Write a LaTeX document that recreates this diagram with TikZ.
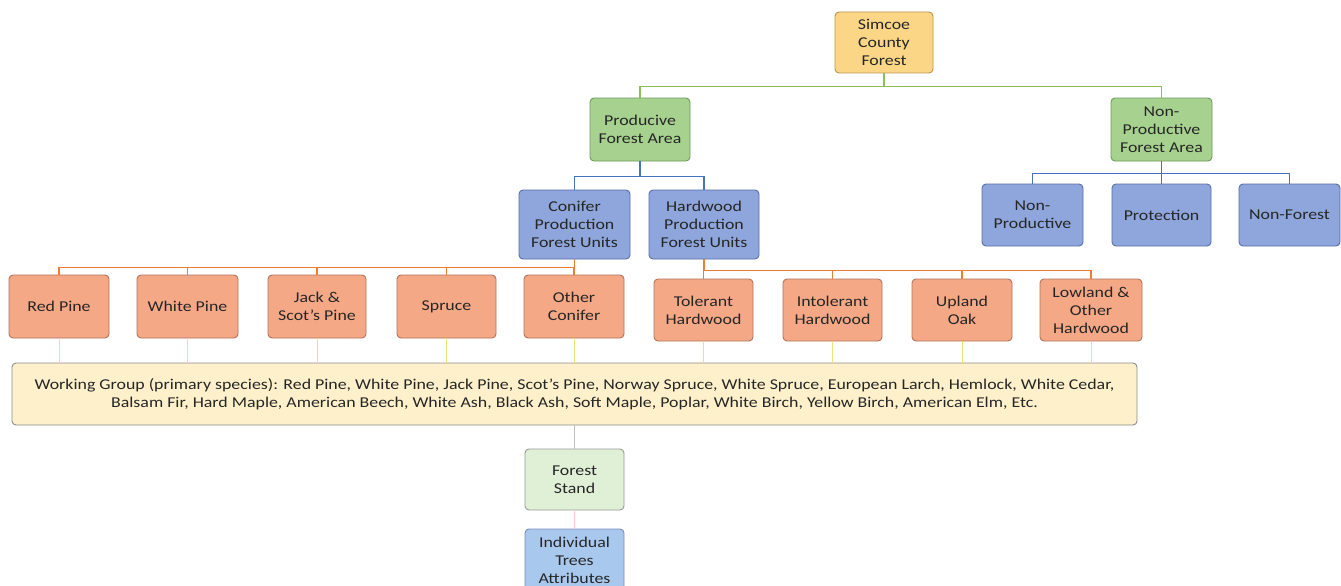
\documentclass[tikz,border=0pt]{standalone}
\usepackage{fontspec}
\setmainfont{Carlito}[FakeStretch=1.19]
\begin{document}
\begin{tikzpicture}[x=1pt,y=-1pt,
  box/.style={draw, rounded corners=4pt, line width=0.9pt, align=center,
    inner sep=1pt, text=black!85, font=\fontsize{15}{18}\selectfont},
  gold/.style={box, fill=gold!85!white, draw=golddk},
  grn/.style={box, fill=grnf, draw=grnd},
  blu/.style={box, fill=bluf, draw=blud},
  org/.style={box, fill=orgf, draw=orgd},
  gline/.style={draw=glc, line width=1.3pt},
  bline/.style={draw=blc, line width=1.6pt},
  oline/.style={draw=olc, line width=1.8pt},
  yline/.style={draw=ylc, line width=0.7pt},
  fline/.style={draw=black!25, line width=0.6pt}]
\definecolor{gold}{HTML}{FBCF72}
\definecolor{golddk}{HTML}{B8954E}
\definecolor{grnf}{HTML}{A6D18E}
\definecolor{grnd}{HTML}{6F9A5C}
\definecolor{bluf}{HTML}{8EA6DB}
\definecolor{blud}{HTML}{5A6EA6}
\definecolor{orgf}{HTML}{F5A886}
\definecolor{orgd}{HTML}{B0735A}
\definecolor{glc}{HTML}{8CBF58}
\definecolor{blc}{HTML}{4472C4}
\definecolor{olc}{HTML}{EE7D33}
\definecolor{ylc}{HTML}{EDE27A}
\definecolor{bigf}{HTML}{FDF0CA}
\definecolor{fsf}{HTML}{E0F0D6}
\definecolor{itf}{HTML}{A9C8EE}
\useasboundingbox (0,0) rectangle (1341,586);
\clip (0,0) rectangle (1341,586);
\fill[white] (0,0) rectangle (1341,586);

% top levels
\node[gold, minimum width=98pt, minimum height=61pt] (scf) at (884,42.5) {Simcoe\\County\\Forest};
\node[grn, minimum width=100pt, minimum height=63pt] (pfa) at (640,129.5) {Producive\\Forest Area};
\node[grn, minimum width=101pt, minimum height=63pt] (npfa) at (1161.5,129.5) {Non-\\Productive\\Forest Area};

\node[blu, minimum width=111pt, minimum height=69pt] (cpu) at (574.5,224.5) {Conifer\\Production\\Forest Units};
\node[blu, minimum width=110pt, minimum height=69pt] (hpu) at (704,224.5) {Hardwood\\Production\\Forest Units};

\node[blu, minimum width=101pt, minimum height=62pt] (np) at (1032.5,215) {Non-\\Productive};
\node[blu, minimum width=99pt, minimum height=62pt] (prot) at (1161.5,215) {Protection};
\node[blu, minimum width=101pt, minimum height=62pt] (nf) at (1289.5,215) {Non-Forest};

% conifer units
\node[org, minimum width=100pt, minimum height=63pt] (rp) at (59,306.5) {Red Pine};
\node[org, minimum width=101pt, minimum height=63pt] (wp) at (187.5,306.5) {White Pine};
\node[org, minimum width=98pt, minimum height=63pt] (jsp) at (317,306.5) {Jack \&\\Scot's Pine};
\node[org, minimum width=99pt, minimum height=63pt] (spr) at (446.5,306.5) {Spruce};
\node[org, minimum width=100pt, minimum height=63pt] (oc) at (574,306.5) {Other\\Conifer};

% hardwood units
\node[org, minimum width=99pt, minimum height=62pt] (th) at (703.5,310) {Tolerant\\Hardwood};
\node[org, minimum width=99pt, minimum height=62pt] (ih) at (832.5,310) {Intolerant\\Hardwood};
\node[org, minimum width=100pt, minimum height=62pt] (uo) at (962,310) {Upland\\Oak};
\node[org, minimum width=102pt, minimum height=62pt] (lo) at (1091,310) {Lowland \&\\Other\\Hardwood};

% working group
\node[box, fill=bigf, draw=black!45, minimum width=1125pt, minimum height=62pt,
  font=\fontsize{15}{18}\selectfont] (wg) at (574.5,394)
  {Working Group (primary species): Red Pine, White Pine, Jack Pine, Scot's Pine, Norway Spruce, White Spruce, European Larch, Hemlock, White Cedar,\\
   Balsam Fir, Hard Maple, American Beech, White Ash, Black Ash, Soft Maple, Poplar, White Birch, Yellow Birch, American Elm, Etc.};

\node[box, fill=fsf, draw=black!40, minimum width=99pt, minimum height=61pt] (fs) at (574.5,479.5) {Forest\\Stand};
\node[box, fill=itf, draw=blud!80, minimum width=99pt, minimum height=62pt] (it) at (574.5,560) {Individual\\Trees\\Attributes};

% connectors
\draw[gline] (scf.south) -- ++(0,13) coordinate (g1);
\draw[gline] (pfa.north) |- (g1) -| (npfa.north);
\draw[bline] (pfa.south) -- ++(0,15) coordinate (b1);
\draw[bline] (cpu.north) |- (b1) -| (hpu.north);
\draw[bline] (npfa.south) -- ++(0,12) coordinate (b2);
\draw[bline] (np.north) |- (b2) -| (nf.north);
\draw[bline] (b2) -- (prot.north);

\draw[oline] (cpu.south) -- ++(0,8) coordinate (o1);
\draw[oline] (rp.north) |- (o1);
\foreach \n in {wp,jsp,spr,oc} \draw[oline] (\n.north) -- (\n.north |- o1);
\draw[oline] (hpu.south) -- ++(0,11) coordinate (o2);
\draw[oline] (o2) -| (lo.north);
\foreach \n in {th,ih,uo} \draw[oline] (\n.north) -- (\n.north |- o2);

\foreach \n in {rp,wp,jsp,spr,oc,th,ih,uo,lo} \draw[yline] (\n.south) -- (\n.south |- wg.north);
\draw[fline] (wg.south -| fs.north) -- (fs.north);
\draw[draw=red!20, line width=0.6pt] (fs.south) -- (it.north);
\end{tikzpicture}
\end{document}
